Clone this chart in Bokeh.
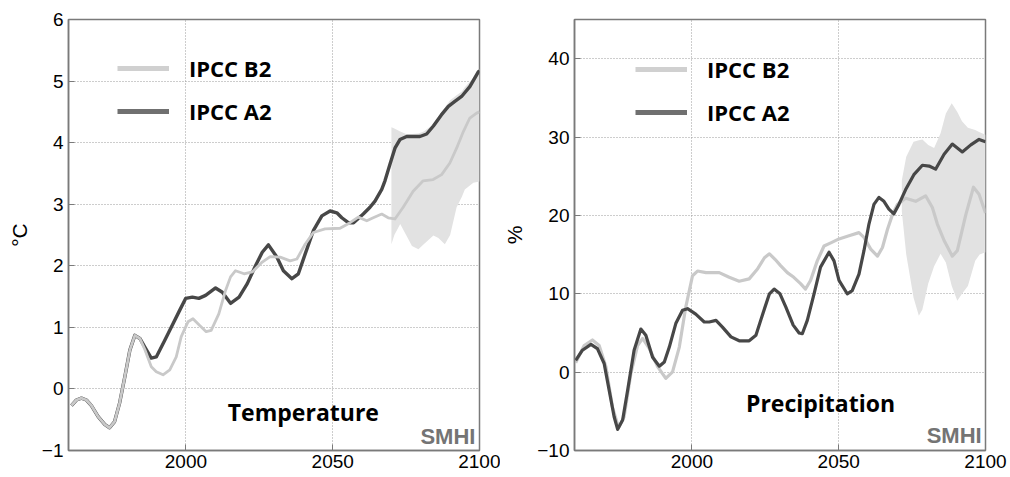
from bokeh.plotting import figure
from bokeh.layouts import row
from bokeh.models import FixedTicker, Legend, LegendItem, Label, Range1d
from bokeh.embed import file_html
from bokeh.resources import INLINE

NAN = float("nan")

# ---------------- data ----------------
temp_a2_years = [1961, 1962.7, 1964.4, 1966.1, 1967.8, 1970.1, 1972.4, 1974, 1975.7, 1977.4,
                 1979.2, 1980.9, 1982.6, 1984.3, 1986, 1988.2, 1989.9, 1992.8, 1995.6, 1997.9,
                 1999.9, 2002.2, 2004.4, 2006.7, 2010.1, 2012.4, 2015.2, 2018.1, 2020.9, 2023.7,
                 2026, 2028.1, 2031, 2033.2, 2036.1, 2038.3, 2040.6, 2043.4, 2046.3, 2049.1,
                 2051.4, 2053.1, 2055.3, 2057.1, 2060.4, 2062.7, 2064.4, 2066.7, 2067.8, 2069.5,
                 2071.2, 2072.9, 2075.2, 2079.7, 2082, 2084.3, 2087, 2089.4, 2091.6, 2093.9,
                 2096.7, 2099.6, 2100]
temp_a2 = [-0.27, -0.18, -0.15, -0.18, -0.27, -0.45, -0.58, -0.63, -0.53, -0.23,
           0.2, 0.63, 0.87, 0.82, 0.68, 0.5, 0.52, 0.79, 1.06, 1.28,
           1.47, 1.49, 1.47, 1.52, 1.64, 1.57, 1.39, 1.49, 1.71, 2.0,
           2.22, 2.34, 2.14, 1.92, 1.79, 1.87, 2.19, 2.57, 2.81, 2.89,
           2.86, 2.78, 2.70, 2.70, 2.84, 2.95, 3.05, 3.24, 3.38, 3.65,
           3.91, 4.05, 4.1, 4.1, 4.14, 4.27, 4.45, 4.59, 4.67, 4.75,
           4.91, 5.15, 5.17]

temp_b2_years = [1961, 1962.7, 1964.4, 1966.1, 1967.8, 1970.1, 1972.4, 1974, 1975.7, 1977.4,
                 1979.2, 1980.9, 1982.6, 1984.3, 1986, 1988.2, 1989.9, 1992.2, 1994.5, 1996.7,
                 1998.4, 2000.7, 2002.4, 2004.7, 2006.9, 2008.6, 2011.2, 2013.5, 2015.2, 2016.9,
                 2019.8, 2022.6, 2026, 2028.7, 2032.1, 2035.5, 2037.8, 2040.6, 2043.4, 2047.4,
                 2052.5, 2055.9, 2058.7, 2061.6, 2063.8, 2066.7, 2068.9, 2071.2, 2074, 2077.4,
                 2080.8, 2084.2, 2087.1, 2089.9, 2092.2, 2094.5, 2096.7, 2099, 2100]
temp_b2 = [-0.27, -0.18, -0.15, -0.18, -0.27, -0.45, -0.58, -0.63, -0.53, -0.23,
           0.2, 0.63, 0.87, 0.82, 0.64, 0.36, 0.28, 0.23, 0.31, 0.52,
           0.85, 1.09, 1.14, 1.03, 0.93, 0.95, 1.22, 1.6, 1.82, 1.92,
           1.87, 1.9, 2.06, 2.15, 2.14, 2.08, 2.11, 2.35, 2.54, 2.6,
           2.61, 2.70, 2.79, 2.73, 2.78, 2.84, 2.78, 2.76, 2.95, 3.21,
           3.38, 3.4, 3.48, 3.67, 3.91, 4.18, 4.4, 4.48, 4.5]

temp_band_years = [2070, 2071, 2073, 2075, 2077, 2079.2, 2081, 2084.3, 2086, 2088.2, 2090, 2092.2,
                   2094, 2095, 2097.9, 2100]
temp_band_upper = [4.25, 4.23, 4.18, 4.14, 4.14, 4.15, 4.18, 4.3, 4.42, 4.57, 4.69, 4.77,
                   4.83, 4.9, 5.05, 5.2]
temp_band_lower = [2.35, 2.5, 2.68, 2.5, 2.32, 2.27, 2.35, 2.49, 2.45, 2.35, 2.5, 2.95,
                   3.12, 3.24, 3.35, 3.37]

prec_a2_years = [1960.4, 1962.7, 1965.6, 1967.8, 1970.1, 1971.8, 1973.5, 1974.7, 1976.4, 1978.1,
                 1980.3, 1982.6, 1984.3, 1986.6, 1988.9, 1990.6, 1992.3, 1994.5, 1996.8, 1998.5,
                 2001.3, 2004.2, 2005.9, 2008.2, 2010.4, 2013.3, 2016.1, 2019.5, 2021.8, 2024.1,
                 2026.4, 2028, 2030, 2032, 2034.5, 2036.5, 2037.6, 2039.3, 2041.6, 2043.8,
                 2046.7, 2048.4, 2050.1, 2052.9, 2054.6, 2056.9, 2058.6, 2060.3, 2062, 2063.7,
                 2065.4, 2067.1, 2068.8, 2070.5, 2072.8, 2075.6, 2078.5, 2080.8, 2083, 2085.9,
                 2088.7, 2090.4, 2092.1, 2095, 2097.8, 2100]
prec_a2 = [1.5, 2.8, 3.55, 3.0, 1.1, -2.3, -5.7, -7.3, -6.1, -2.3,
           2.8, 5.5, 4.7, 1.9, 0.76, 1.3, 3.2, 6.2, 7.9, 8.1,
           7.4, 6.4, 6.4, 6.6, 5.75, 4.5, 4.0, 4.0, 4.7, 7.4,
           10.0, 10.6, 10.0, 8.3, 6.0, 5.0, 4.9, 6.6, 10.0, 13.4,
           15.3, 14.2, 11.7, 10.0, 10.4, 12.5, 15.5, 18.9, 21.4, 22.3,
           21.8, 20.8, 20.2, 21.4, 23.3, 25.2, 26.4, 26.3, 25.9, 27.8,
           29.1, 28.6, 28.1, 29.0, 29.7, 29.4]

prec_b2_years = [1960.4, 1963.3, 1966.1, 1968.4, 1970.7, 1972.9, 1975, 1976.9, 1979.2, 1981.5,
                 1983.2, 1985.5, 1988.3, 1991.1, 1993.4, 1995.7, 1997.9, 2000.2, 2001.9, 2004.8,
                 2009.3, 2012.7, 2016.1, 2019.5, 2022.4, 2024.7, 2026.4, 2028.3, 2030.2, 2032.5,
                 2034.7, 2037, 2038.7, 2040.4, 2042.7, 2045, 2047.3, 2050.1, 2053.5, 2056.9,
                 2058.6, 2060.9, 2063.2, 2064.9, 2066.6, 2068.3, 2070, 2072.8, 2076.2, 2079.6,
                 2081.9, 2083.6, 2085.9, 2088.7, 2090.4, 2093.3, 2095.9, 2097.8, 2100]
prec_b2 = [1.2, 3.4, 4.1, 3.4, 0.7, -4.4, -7.1, -5.7, -0.2, 3.4,
           4.3, 3.0, 0.7, -0.8, 0.04, 3.2, 8.3, 12.3, 12.9, 12.7,
           12.7, 12.1, 11.6, 11.9, 13.2, 14.6, 15.1, 14.4, 13.6, 12.7,
           12.1, 11.3, 10.6, 11.7, 14.2, 16.1, 16.5, 17.0, 17.4, 17.8,
           17.2, 15.7, 14.8, 15.9, 18.2, 20.1, 21.4, 22.2, 21.8, 22.5,
           21.0, 18.9, 16.8, 14.8, 15.5, 20.1, 23.6, 22.7, 20.3]

prec_band_years = [2071.5, 2073, 2075.5, 2077.3, 2078.5, 2080.5, 2082.5, 2084.7, 2086.5, 2088.5,
                   2090.4, 2092, 2094, 2096.5, 2098, 2100]
prec_band_upper = [24.5, 27.5, 29.4, 29.6, 29.7, 29.0, 28.6, 30.5, 33.0, 34.3,
                   33.2, 32.0, 31.2, 30.9, 30.6, 30.3]
prec_band_lower = [20.5, 15.0, 9.5, 7.2, 8.0, 11.3, 13.5, 15.1, 14.0, 11.0,
                   9.1, 10.0, 11.0, 14.2, 15.0, 15.3]

x_ticks = [2000, 2050, 2100]
temp_ticks = [-1, 0, 1, 2, 3, 4, 5, 6]
prec_ticks = [-10, 0, 10, 20, 30, 40]
legend_labels = ["IPCC B2", "IPCC A2"]

A2_COLOR = "#474747"
B2_COLOR = "#c9c9c9"
BAND_COLOR = "#e2e2e2"
FRAME_COLOR = "#7a7a7a"


def make_panel(width, yr, yticks, ylabel, band, a2, b2, title, title_pos, logo_pos,
               borders, legend_loc, b2_on_top):
    left, right, top, bottom = borders
    p = figure(width=width, height=477, output_backend="svg", toolbar_location=None,
               x_range=Range1d(1960, 2100), y_range=Range1d(*yr),
               min_border_left=left, min_border_right=right,
               min_border_top=top, min_border_bottom=bottom)
    p.background_fill_color = "white"
    p.border_fill_color = "white"
    p.outline_line_color = FRAME_COLOR
    p.outline_line_width = 1.5

    p.xaxis.ticker = FixedTicker(ticks=x_ticks)
    p.yaxis.ticker = FixedTicker(ticks=yticks)
    p.xgrid.ticker = FixedTicker(ticks=x_ticks)
    p.ygrid.ticker = FixedTicker(ticks=yticks)
    for g in (p.xgrid, p.ygrid):
        g.grid_line_color = "#9a9a9a"
        g.grid_line_dash = "1 2"
        g.grid_line_width = 1

    for ax in (p.xaxis, p.yaxis):
        ax.axis_line_color = FRAME_COLOR
        ax.axis_line_width = 1.5
        ax.major_tick_line_color = FRAME_COLOR
        ax.major_tick_in = 6
        ax.major_tick_out = 0
        ax.minor_tick_line_color = None
        ax.major_label_text_font = "Liberation Sans"
        ax.major_label_text_font_size = "19px"
        ax.major_label_text_color = "black"
    p.xaxis.major_label_standoff = 4
    p.yaxis.major_label_standoff = 5
    p.yaxis.axis_label = ylabel
    p.yaxis.axis_label_text_font = "Liberation Sans"
    p.yaxis.axis_label_text_font_style = "normal"
    p.yaxis.axis_label_text_font_size = "21px"
    p.yaxis.axis_label_text_color = "black"
    p.yaxis.axis_label_standoff = 8

    by, bu, bl = band
    p.varea(x=by, y1=bl, y2=bu, fill_color=BAND_COLOR, fill_alpha=1)
    if b2_on_top:
        p.line(x=a2[0], y=a2[1], line_color=A2_COLOR, line_width=3.4, line_join="round")
        p.line(x=b2[0], y=b2[1], line_color=B2_COLOR, line_width=2.8, line_join="round")
    else:
        p.line(x=b2[0], y=b2[1], line_color=B2_COLOR, line_width=3.2, line_join="round")
        p.line(x=a2[0], y=a2[1], line_color=A2_COLOR, line_width=3.2, line_join="round")

    lb = p.line(x=[NAN], y=[NAN], line_color="#d0d0d0", line_width=5)
    la = p.line(x=[NAN], y=[NAN], line_color="#707070", line_width=5)
    legend = Legend(items=[LegendItem(label=legend_labels[0], renderers=[lb]),
                           LegendItem(label=legend_labels[1], renderers=[la])],
                    location=legend_loc, glyph_width=52, glyph_height=28, label_height=28,
                    label_standoff=20, spacing=13, padding=0, margin=0,
                    border_line_color=None, background_fill_alpha=0,
                    label_text_font="Open Sans", label_text_font_style="bold",
                    label_text_font_size="22px", label_text_color="black")
    p.add_layout(legend)

    p.add_layout(Label(x=title_pos[0], y=title_pos[1], text=title, text_align="center",
                       text_baseline="middle", text_font="Open Sans", text_font_style="bold",
                       text_font_size="23px", text_color="black"))
    p.add_layout(Label(x=logo_pos[0], y=logo_pos[1], text="SMHI", text_align="right",
                       text_baseline="bottom", text_font="Liberation Sans",
                       text_font_style="bold", text_font_size="22px", text_color="#747474"))
    return p


left_p = make_panel(500, (-1, 6), temp_ticks, "°C",
                    (temp_band_years, temp_band_upper, temp_band_lower),
                    (temp_a2_years, temp_a2), (temp_b2_years, temp_b2),
                    "Temperature", (2040, -0.37), (2098.6, -0.97),
                    (68, 21, 19, 25), (49, 324), True)
right_p = make_panel(510, (-10, 45), prec_ticks, "%",
                     (prec_band_years, prec_band_upper, prec_band_lower),
                     (prec_a2_years, prec_a2), (prec_b2_years, prec_b2),
                     "Precipitation", (2043.8, -3.9), (2098.7, -9.7),
                     (74, 25, 18, 27), (61, 323), False)

layout = row(left_p, right_p)
open("out.html", "w").write(file_html(layout, INLINE))
